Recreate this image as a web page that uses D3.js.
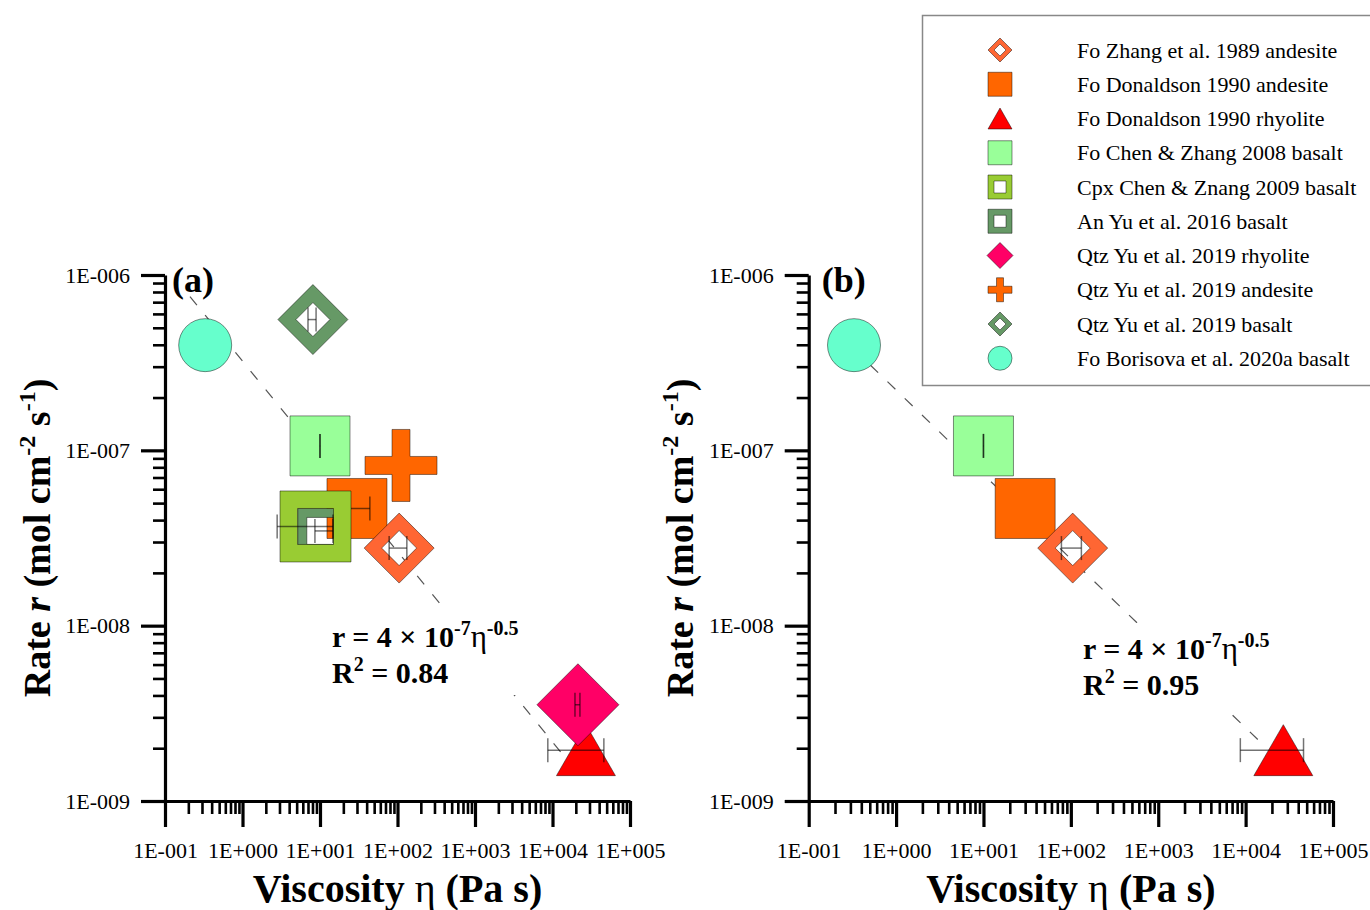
<!DOCTYPE html>
<html><head><meta charset="utf-8">
<script src="https://cdn.jsdelivr.net/npm/d3@7"></script>
<style>
body{margin:0;background:#fff}
svg{display:block}
text{font-family:"Liberation Serif","Times New Roman",serif;fill:#000}
</style>
</head><body>
<svg id="chart" width="1370" height="910"></svg>
<script>
// ---------------- DATA ----------------
const etaTicks = [0.1, 1, 10, 100, 1e3, 1e4, 1e5];
const xTickLabels = ["1E-001","1E+000","1E+001","1E+002","1E+003","1E+004","1E+005"];
const rateTicks = [1e-9, 1e-8, 1e-7, 1e-6];
const yTickLabels = ["1E-009","1E-008","1E-007","1E-006"];

const seriesNames = [
  "Fo Zhang et al. 1989 andesite",
  "Fo Donaldson 1990 andesite",
  "Fo Donaldson 1990 rhyolite",
  "Fo Chen & Zhang 2008 basalt",
  "Cpx Chen & Znang 2009 basalt",
  "An Yu et al. 2016 basalt",
  "Qtz Yu et al. 2019 rhyolite",
  "Qtz Yu et al. 2019 andesite",
  "Qtz Yu et al. 2019 basalt",
  "Fo Borisova et al. 2020a basalt"
];
// viscosity eta (Pa s), rate r (mol cm-2 s-1), eta error-bar ends
const eta     = [105, 30, 2.7e4, 10, 8.75, 10.1, 2.13e4, 111, 8.1, 0.33];
const rate    = [2.77e-8, 4.66e-8, 1.95e-9, 1.06e-7, 3.68e-8, 3.47e-8, 3.54e-9, 8.2e-8, 5.57e-7, 3.98e-7];
const etaLow  = [78, 16, 8.7e3, 9.95, 2.8, 8.6, 1.95e4, null, 7.0, null];
const etaHigh = [132, 44, 4.6e4, 10.05, 14.7, 14.7, 2.26e4, null, 8.9, null];

// which series appear in each panel (drawing order) and which show error bars
const panelASeries = [9, 8, 3, 1, 5, 4, 7, 0, 2, 6];
const panelAErrBars = [0, 1, 2, 3, 4, 5, 6, 8];
const panelBSeries = [9, 3, 1, 0, 2];
const panelBErrBars = [0, 2, 3];

// fitted power-law lines (end points)
const fitAEta  = [0.21, 1.33e4];
const fitARate = [7.53e-7, 1.86e-9];
const fitBEta  = [0.321, 1.71e4];
const fitBRate = [3.82e-7, 2.02e-9];

const fitCoef  = ["4", "4"];
const fitExp10 = ["-7", "-7"];
const fitSlope = ["-0.5", "-0.5"];
const fitR2    = ["0.84", "0.95"];

// ---------------- STYLES ----------------
const seriesStyle = [
  {shape:"diamondHollow", color:"#FF6633", size:35, hole:17.5},
  {shape:"square",        color:"#FF6600", size:60},
  {shape:"triangle",      color:"#FF0000", w:59, h:51},
  {shape:"square",        color:"#99FF99", size:60},
  {shape:"squareHollow",  color:"#99CC33", size:71, hole:36},
  {shape:"squareHollow",  color:"#669966", size:45, hole:27},
  {shape:"diamond",       color:"#FF0066", size:41},
  {shape:"plus",          color:"#FF6600", size:72, arm:18},
  {shape:"diamondHollow", color:"#669966", size:35, hole:17},
  {shape:"circle",        color:"#66FFCC", size:26.5}
];
const legendStyle = [
  {shape:"diamondHollow", size:12, hole:6},
  {shape:"square", size:24},
  {shape:"triangle", w:24, h:21},
  {shape:"square", size:24},
  {shape:"squareHollow", size:24, hole:12},
  {shape:"squareHollow", size:24, hole:12},
  {shape:"diamond", size:13},
  {shape:"plus", size:24, arm:7},
  {shape:"diamondHollow", size:12, hole:6},
  {shape:"circle", size:12}
];

function shapePath(st){
  const p = d3.path();
  const sq = (h)=>{p.moveTo(-h,-h);p.lineTo(h,-h);p.lineTo(h,h);p.lineTo(-h,h);p.closePath();};
  const dm = (h)=>{p.moveTo(0,-h);p.lineTo(h,0);p.lineTo(0,h);p.lineTo(-h,0);p.closePath();};
  switch(st.shape){
    case "square": sq(st.size/2); break;
    case "squareHollow": sq(st.size/2); sq(st.hole/2); break;
    case "diamond": dm(st.size); break;
    case "diamondHollow": dm(st.size); dm(st.hole); break;
    case "triangle": p.moveTo(0,-st.h/2); p.lineTo(st.w/2,st.h/2); p.lineTo(-st.w/2,st.h/2); p.closePath(); break;
    case "circle": p.arc(0,0,st.size,0,Math.PI*2); p.closePath(); break;
    case "plus": {
      const L=st.size/2, a=st.arm/2;
      p.moveTo(-a,-L);p.lineTo(a,-L);p.lineTo(a,-a);p.lineTo(L,-a);p.lineTo(L,a);p.lineTo(a,a);
      p.lineTo(a,L);p.lineTo(-a,L);p.lineTo(-a,a);p.lineTo(-L,a);p.lineTo(-L,-a);p.lineTo(-a,-a);p.closePath();
      break;}
  }
  return p.toString();
}

const svg = d3.select("#chart");
const FONT = '"Liberation Serif","Times New Roman",serif';

function drawPanel(cfg){
  const x = d3.scaleLog().domain([etaTicks[0], etaTicks[etaTicks.length-1]]).range([cfg.x0, cfg.x1]);
  const y = d3.scaleLog().domain([rateTicks[0], rateTicks[rateTicks.length-1]]).range([cfg.y0, cfg.y1]);
  const g = svg.append("g");

  // minor tick values
  const minorX = [], minorY = [];
  etaTicks.slice(0,-1).forEach(t=>{for(let k=2;k<=9;k++) minorX.push(t*k);});
  rateTicks.slice(0,-1).forEach(t=>{for(let k=2;k<=9;k++) minorY.push(t*k);});

  const gxMinor = g.append("g").attr("transform",`translate(0,${cfg.y0})`)
    .call(d3.axisBottom(x).tickValues(minorX).tickSize(13).tickFormat(""));
  const gx = g.append("g").attr("transform",`translate(0,${cfg.y0})`)
    .call(d3.axisBottom(x).tickValues(etaTicks).tickSize(26).tickSizeOuter(0).tickPadding(15)
      .tickFormat((d,i)=>xTickLabels[i]));
  const gyMinor = g.append("g").attr("transform",`translate(${cfg.x0},0)`)
    .call(d3.axisLeft(y).tickValues(minorY).tickSize(12).tickFormat(""));
  const gy = g.append("g").attr("transform",`translate(${cfg.x0},0)`)
    .call(d3.axisLeft(y).tickValues(rateTicks).tickSize(24).tickSizeOuter(0).tickPadding(11)
      .tickFormat((d,i)=>yTickLabels[i]));
  [gxMinor,gyMinor].forEach(a=>{a.select(".domain").remove();a.selectAll("line").attr("stroke","#000").attr("stroke-width",2.6);});
  [gx,gy].forEach(a=>{
    a.select(".domain").attr("stroke","#000").attr("stroke-width",3.2);
    a.selectAll("line").attr("stroke","#000").attr("stroke-width",3.2);
    a.selectAll("text").attr("font-family",FONT).attr("font-size",22).attr("fill","#000");
  });

  // fit line
  const lineData = cfg.fitEta.map((e,i)=>[e,cfg.fitRate[i]]);
  g.append("path").attr("d", d3.line().x(d=>x(d[0])).y(d=>y(d[1]))(lineData))
    .attr("stroke","#555").attr("stroke-width",1.2).attr("stroke-dasharray","11,13").attr("fill","none");

  // formula label with white background
  const lab = g.append("g");
  lab.append("rect").attr("x",cfg.lx-6).attr("y",cfg.ly-36).attr("width",206).attr("height",84).attr("fill","#fff");
  const t1 = lab.append("text").attr("x",cfg.lx).attr("y",cfg.ly).attr("font-size",30).attr("font-weight","bold");
  t1.append("tspan").text(`r = ${cfg.coef} \u00D7 10`);
  t1.append("tspan").attr("font-size",20).attr("dy",-12).text(cfg.exp10);
  t1.append("tspan").attr("dy",12).attr("font-weight","normal").attr("font-size",31).text("\u03B7");
  t1.append("tspan").attr("font-size",20).attr("dy",-12).text(cfg.slope);
  const t2 = lab.append("text").attr("x",cfg.lx).attr("y",cfg.ly+36).attr("font-size",30).attr("font-weight","bold");
  t2.append("tspan").text("R");
  t2.append("tspan").attr("font-size",20).attr("dy",-12).text("2");
  t2.append("tspan").attr("dy",12).text(` = ${cfg.r2}`);

  // markers + error bars
  cfg.series.forEach(i=>{
    const st = seriesStyle[i];
    const cx = x(eta[i]), cy = y(rate[i]);
    g.append("path").attr("d",shapePath(st)).attr("transform",`translate(${cx},${cy})`)
      .attr("fill",st.color).attr("fill-rule","evenodd")
      .attr("stroke","rgba(0,0,0,0.45)").attr("stroke-width",1);
    if(etaLow[i]!==null && cfg.errBars.includes(i)){
      const xl = x(etaLow[i]), xh = x(etaHigh[i]);
      const eb = g.append("g").attr("stroke","rgba(0,0,0,0.55)").attr("stroke-width",1.5);
      eb.append("line").attr("x1",xl).attr("x2",xh).attr("y1",cy).attr("y2",cy);
      eb.append("line").attr("x1",xl).attr("x2",xl).attr("y1",cy-12).attr("y2",cy+12);
      eb.append("line").attr("x1",xh).attr("x2",xh).attr("y1",cy-12).attr("y2",cy+12);
    }
  });

  // panel letter
  g.append("text").attr("x",cfg.x0+cfg.letterDx).attr("y",cfg.y1+17).attr("font-size",36).attr("font-weight","bold").text(cfg.letter);

  // axis titles
  const xt = g.append("text").attr("x",(cfg.x0+cfg.x1)/2).attr("y",902).attr("text-anchor","middle")
    .attr("font-size",40).attr("font-weight","bold");
  xt.append("tspan").text("Viscosity ");
  xt.append("tspan").attr("font-weight","normal").text("\u03B7");
  xt.append("tspan").text(" (Pa s)");

  const yt = g.append("text").attr("transform",`translate(${cfg.ytx},${(cfg.y0+cfg.y1)/2}) rotate(-90)`)
    .attr("text-anchor","middle").attr("font-size",38).attr("font-weight","bold");
  yt.append("tspan").text("Rate ");
  yt.append("tspan").attr("font-style","italic").text("r");
  yt.append("tspan").text(" (mol cm");
  yt.append("tspan").attr("font-size",24).attr("dy",-15).text("-2");
  yt.append("tspan").attr("dy",15).text(" s");
  yt.append("tspan").attr("font-size",24).attr("dy",-15).text("-1");
  yt.append("tspan").attr("dy",15).text(")");
}

drawPanel({x0:165, x1:630, y0:801, y1:275, series:panelASeries, errBars:panelAErrBars, fitEta:fitAEta, fitRate:fitARate,
  coef:fitCoef[0], exp10:fitExp10[0], slope:fitSlope[0], r2:fitR2[0], lx:332, ly:647, letter:"(a)", letterDx:7, ytx:50});
drawPanel({x0:808.7, x1:1333, y0:801, y1:275, series:panelBSeries, errBars:panelBErrBars, fitEta:fitBEta, fitRate:fitBRate,
  coef:fitCoef[1], exp10:fitExp10[1], slope:fitSlope[1], r2:fitR2[1], lx:1083, ly:659, letter:"(b)", letterDx:13, ytx:693});

// legend
const lg = svg.append("g");
lg.append("rect").attr("x",922.5).attr("y",15.5).attr("width",460).attr("height",370)
  .attr("fill","#fff").attr("stroke","#888").attr("stroke-width",1.5);
seriesNames.forEach((name,i)=>{
  const yy = 50 + i*34.25;
  const st = Object.assign({}, legendStyle[i], {color: seriesStyle[i].color});
  lg.append("path").attr("d",shapePath(st)).attr("transform",`translate(1000,${yy})`)
    .attr("fill",st.color).attr("fill-rule","evenodd").attr("stroke","rgba(0,0,0,0.45)").attr("stroke-width",1);
  lg.append("text").attr("x",1077).attr("y",yy+7.5).attr("font-size",22).text(name);
});
</script>
</body></html>
